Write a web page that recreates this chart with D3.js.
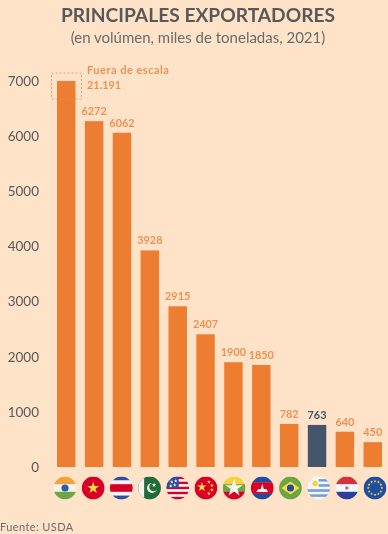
<!DOCTYPE html>
<html>
<head>
<meta charset="utf-8">
<script src="https://cdn.jsdelivr.net/npm/d3@7"></script>
<style>
html, body { margin: 0; padding: 0; background: #ffe3c9; overflow: hidden; }
svg { display: block; font-family: Lato, sans-serif; filter: blur(0.45px); }
</style>
</head>
<body>
<svg id="chart" width="388" height="534"></svg>
<script>
const countries = ["India", "Vietnam", "Tailandia", "Pakistan", "EEUU", "China", "Myanmar", "Camboya", "Brasil", "Uruguay", "Paraguay", "UE"];
// India is out of scale: the bar stops at the top of the axis
const barValues = [7000, 6272, 6062, 3928, 2915, 2407, 1900, 1850, 782, 763, 640, 450];
const valueLabels = ["", "6272", "6062", "3928", "2915", "2407", "1900", "1850", "782", "763", "640", "450"];
const yTicks = [0, 1000, 2000, 3000, 4000, 5000, 6000, 7000];
const highlight = "Uruguay";

const orange = "#ed7d31", navy = "#44546a", labelOrange = "#ee9254", gray = "#595959";

const svg = d3.select("#chart");

const x = d3.scaleBand().domain(countries).range([57, 382]).paddingInner(0.337);
const y = d3.scaleLinear().domain([0, 7000]).range([467, 81]);
// flags are spaced a bit wider than the bars
const xFlag = d3.scalePoint().domain(countries).range([65, 375]);

svg.append("text").attr("x", 198).attr("y", 21.5).attr("text-anchor", "middle")
    .attr("font-size", 19.2).attr("font-weight", 700).attr("fill", gray)
    .text("PRINCIPALES EXPORTADORES");
svg.append("text").attr("x", 198).attr("y", 43).attr("text-anchor", "middle")
    .attr("font-size", 15).attr("fill", "#6b6b6b")
    .text("(en volúmen, miles de toneladas, 2021)");

const yAxis = svg.append("g").attr("transform", "translate(39,0)")
    .call(d3.axisLeft(y).tickValues(yTicks).tickFormat(d3.format("d")).tickSize(0).tickPadding(0));
yAxis.select(".domain").remove();
yAxis.selectAll("text").attr("font-size", 13.5).attr("font-family", "Lato, sans-serif").attr("fill", gray);

svg.selectAll("rect.bar").data(countries).enter().append("rect")
    .attr("class", "bar")
    .attr("x", d => x(d))
    .attr("width", x.bandwidth())
    .attr("y", (d, i) => y(barValues[i]))
    .attr("height", (d, i) => y(0) - y(barValues[i]))
    .attr("fill", d => d === highlight ? navy : orange);

svg.selectAll("text.val").data(countries).enter().append("text")
    .attr("class", "val")
    .attr("x", d => x(d) + x.bandwidth() / 2)
    .attr("y", (d, i) => y(barValues[i]) - 6)
    .attr("text-anchor", "middle")
    .attr("font-size", 10.9)
    .attr("font-weight", 700)
    .attr("fill", d => d === highlight ? navy : labelOrange)
    .text((d, i) => valueLabels[i]);

// dashed box round the India bar top + the note
const b = x("India");
svg.append("rect").attr("x", b - 5.5).attr("y", y(7000) - 8).attr("width", 30).attr("height", 26)
    .attr("fill", "none").attr("stroke", labelOrange).attr("stroke-width", 0.8).attr("stroke-dasharray", "2,2");
svg.append("text").attr("x", 87).attr("y", 73.5).attr("font-size", 11).attr("letter-spacing", 0.5).attr("font-weight", 700)
    .attr("fill", labelOrange).text("Fuera de escala");
svg.append("text").attr("x", 87).attr("y", 89).attr("font-size", 10.9).attr("font-weight", 700)
    .attr("fill", labelOrange).text("21.191");

// flags
const r = 11.4, fy = 488;
const defs = svg.append("defs");
defs.append("clipPath").attr("id", "disc").append("circle").attr("r", r);

function stripes(g, colors) {
    const h = 2 * r / colors.length;
    colors.forEach((c, i) => g.append("rect").attr("x", -r).attr("y", -r + i * h).attr("width", 2 * r).attr("height", h + 0.2).attr("fill", c));
}
function star(g, cx, cy, size, color) {
    g.append("path").attr("transform", `translate(${cx},${cy})`)
        .attr("d", d3.symbol(d3.symbolStar, size)).attr("fill", color);
}

const flags = {
    India(g) {
        stripes(g, ["#f2a33c", "#f7f3ea", "#6da544"]);
        g.append("circle").attr("r", 3.6).attr("fill", "#2a5fa8");
    },
    Vietnam(g) {
        stripes(g, ["#d80027"]);
        star(g, 0, 0, 45, "#ffda44");
    },
    Tailandia(g) {
        stripes(g, ["#2d4f9e", "#f5f5f5", "#d80027", "#d80027", "#f5f5f5", "#2d4f9e"]);
    },
    Pakistan(g) {
        stripes(g, ["#1f6b3a"]);
        g.append("rect").attr("x", -r).attr("y", -r).attr("width", 6).attr("height", 2 * r).attr("fill", "#f7f3ea");
        g.append("circle").attr("cx", 2.5).attr("cy", 0).attr("r", 5).attr("fill", "#f7f3ea");
        g.append("circle").attr("cx", 4).attr("cy", -1).attr("r", 4.3).attr("fill", "#1f6b3a");
        star(g, 4.5, -3, 7, "#f7f3ea");
    },
    EEUU(g) {
        stripes(g, ["#d80027", "#f5f5f5", "#d80027", "#f5f5f5", "#d80027", "#f5f5f5", "#d80027", "#f5f5f5", "#d80027"]);
        g.append("rect").attr("x", -r).attr("y", -r).attr("width", r + 1).attr("height", r).attr("fill", "#2d4f9e");
        [[-6, -6], [-2, -7], [-7, -2], [-3, -3]].forEach(p => star(g, p[0], p[1], 4, "#fff"));
    },
    China(g) {
        stripes(g, ["#d80027"]);
        star(g, -4, -1, 28, "#ffda44");
        [[3, -6], [6, -2.5], [6, 2], [3, 5.5]].forEach(p => star(g, p[0], p[1], 5, "#ffda44"));
    },
    Myanmar(g) {
        stripes(g, ["#f5d33c", "#6da544", "#d80027"]);
        star(g, 0, 0, 95, "#f7f3ea");
    },
    Camboya(g) {
        stripes(g, ["#1f4ea1", "#d80027", "#d80027", "#1f4ea1"]);
        g.append("path").attr("d", d3.line()([[-6, 4], [-4, 1], [-1.5, 1], [0, -4.5], [1.5, 1], [4, 1], [6, 4]])).attr("fill", "#f7f3ea");
    },
    Brasil(g) {
        stripes(g, ["#6da544"]);
        g.append("path").attr("d", d3.line()([[-9, 0], [0, -6.5], [9, 0], [0, 6.5]])).attr("fill", "#ffda44");
        g.append("circle").attr("r", 3.6).attr("fill", "#1f4ea1");
    },
    Uruguay(g) {
        stripes(g, ["#f7f5f0", "#6f9fdc", "#f7f5f0", "#6f9fdc", "#f7f5f0", "#6f9fdc", "#f7f5f0", "#6f9fdc", "#f7f5f0"]);
        g.append("rect").attr("x", -r).attr("y", -r).attr("width", r).attr("height", r).attr("fill", "#f7f5f0");
        g.append("circle").attr("cx", -3.5).attr("cy", -4.5).attr("r", 2.7).attr("fill", "#f5d33c");
    },
    Paraguay(g) {
        stripes(g, ["#d8303a", "#f5f5f5", "#2d3f9e"]);
        g.append("circle").attr("r", 1.8).attr("fill", "#8a8a9a");
    },
    UE(g) {
        stripes(g, ["#1f4ea1"]);
        d3.range(12).forEach(i => {
            const a = i * Math.PI / 6;
            star(g, 6.8 * Math.cos(a), 6.8 * Math.sin(a), 3, "#ffda44");
        });
    }
};

countries.forEach(c => {
    const g = svg.append("g")
        .attr("transform", `translate(${xFlag(c)},${fy})`)
        .attr("clip-path", "url(#disc)");
    flags[c](g);
});

svg.append("text").attr("x", 0).attr("y", 531).attr("font-size", 11).attr("fill", "#6b6b6b")
    .attr("letter-spacing", 0.4).text("Fuente: USDA");
</script>
</body>
</html>
